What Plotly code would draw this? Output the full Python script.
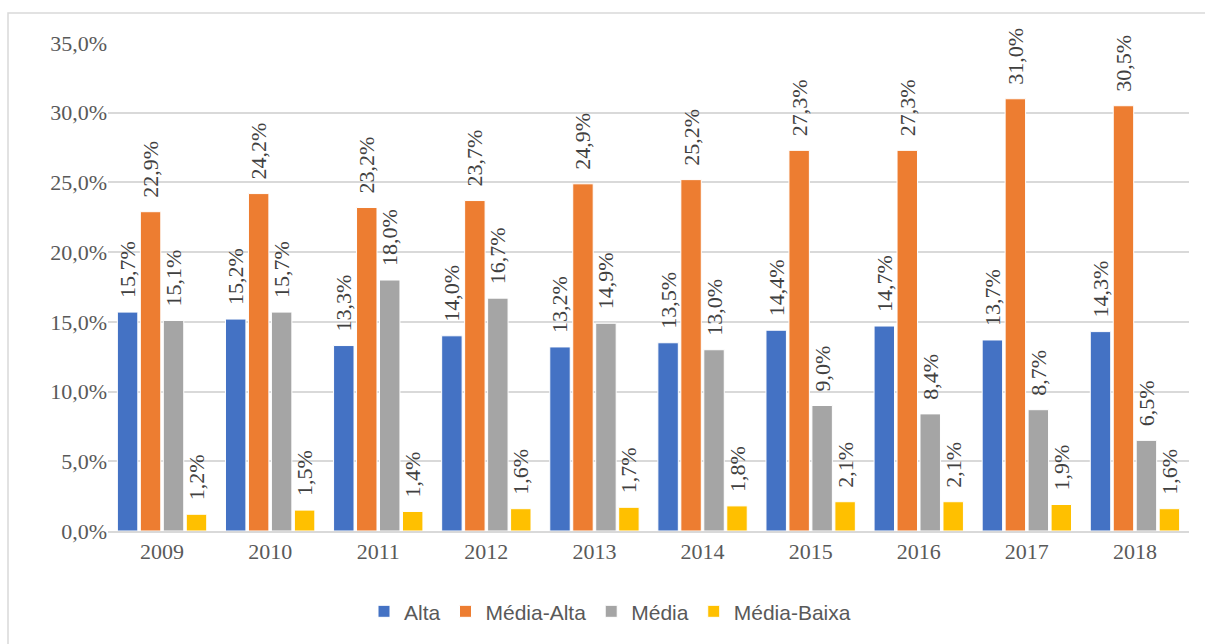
import plotly.graph_objects as go

years = ["2009", "2010", "2011", "2012", "2013", "2014", "2015", "2016", "2017", "2018"]
alta = [15.7, 15.2, 13.3, 14.0, 13.2, 13.5, 14.4, 14.7, 13.7, 14.3]
media_alta = [22.9, 24.2, 23.2, 23.7, 24.9, 25.2, 27.3, 27.3, 31.0, 30.5]
media = [15.1, 15.7, 18.0, 16.7, 14.9, 13.0, 9.0, 8.4, 8.7, 6.5]
media_baixa = [1.2, 1.5, 1.4, 1.6, 1.7, 1.8, 2.1, 2.1, 1.9, 1.6]

series = [
    ("Alta", alta, "#4472C4"),
    ("Média-Alta", media_alta, "#ED7D31"),
    ("Média", media, "#A5A5A5"),
    ("Média-Baixa", media_baixa, "#FFC000"),
]
y_ticks = [0, 5, 10, 15, 20, 25, 30, 35]
y_tick_text = [f"{v:.1f}%".replace(".", ",") for v in y_ticks]

SERIF = "Liberation Serif"
lab_font = dict(family=SERIF, size=22, color="#404040")

fig = go.Figure()
for name, vals, color in series:
    fig.add_trace(go.Bar(
        x=years, y=vals, name=name,
        marker=dict(color=color, line=dict(color="white", width=1)),
        text=["\u00a0\u00a0" + f"{v:.1f}%".replace(".", ",") for v in vals],
        texttemplate="%{text}", textposition="outside",
        textangle=-90, cliponaxis=False, constraintext="none",
        textfont=lab_font, outsidetextfont=lab_font,
    ))

W, H = 1205, 644
l, r, t, b = 108, 16, 43, 111
pw, ph = W - l - r, H - t - b

fig.update_layout(
    width=W, height=H,
    margin=dict(l=l, r=r, t=t, b=b),
    paper_bgcolor="white", plot_bgcolor="white",
    barmode="group", bargap=0.15, bargroupgap=0.11,
    showlegend=True,
    legend=dict(orientation="h", x=(364 - l) / pw, xanchor="left",
                y=(t + ph - 614) / ph, yanchor="middle",
                font=dict(family="Liberation Sans", size=21, color="#595959"),
                itemwidth=30, tracegroupgap=0, traceorder="normal"),
    xaxis=dict(showgrid=False, showline=True, linecolor="#d9d9d9", linewidth=1.5,
               ticks="", tickfont=dict(family=SERIF, size=22, color="#595959")),
    yaxis=dict(range=[0, 35], tickmode="array", tickvals=y_ticks, ticktext=y_tick_text,
               showgrid=True, gridcolor="#d9d9d9", gridwidth=1.5, zeroline=False,
               showline=False, ticks="", ticklen=0,
               tickfont=dict(family=SERIF, size=22, color="#595959")),
    shapes=[dict(type="rect", xref="paper", yref="paper",
                 x0=(8 - l) / pw, x1=(W + 10 - l) / pw,
                 y0=(t + ph - (H + 10)) / ph, y1=(t + ph - 13) / ph,
                 line=dict(color="#d9d9d9", width=1.5), layer="below")],
)

fig.write_html("out.html")
